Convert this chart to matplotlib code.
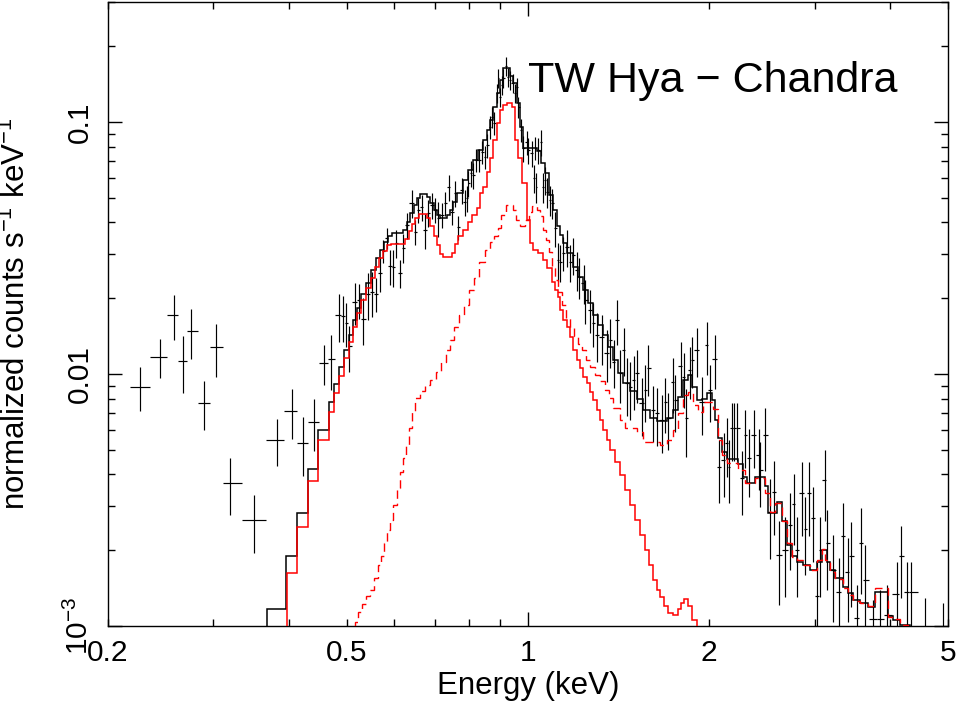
import numpy as np
import matplotlib
matplotlib.use("Agg")
import matplotlib.pyplot as plt

# ============================================================
# 1. Data
# ============================================================

# observed spectrum: bin centre (keV), rate (counts/s/keV), 1-sigma error
e_data = [
    0.2266, 0.2444, 0.2577, 0.2667, 0.2757, 0.2891, 0.3027, 0.3197, 0.3510, 0.3824,
    0.4049, 0.4223, 0.4405, 0.4578, 0.4714,
    0.4850, 0.4930, 0.4987, 0.5050, 0.5163, 0.5232, 0.5329, 0.5432, 0.5510, 0.5596,
    0.5682, 0.5754, 0.5830, 0.5902, 0.5976, 0.6039, 0.6133, 0.6205, 0.6293, 0.6415,
    0.6497, 0.6571, 0.6665, 0.6750, 0.6837, 0.6926, 0.7015, 0.7103, 0.7197, 0.7289,
    0.7382, 0.7487, 0.7574, 0.7662, 0.7769, 0.7852, 0.7918, 0.7967, 0.8049, 0.8122,
    0.8207, 0.8310, 0.8387, 0.8495, 0.8550, 0.8659, 0.8716, 0.8793, 0.8884, 0.8938,
    0.8997, 0.9066, 0.9112, 0.9207, 0.9266, 0.9347, 0.9445, 0.9528, 0.9591, 0.9650,
    0.9739, 0.9836, 0.9966, 1.0027, 1.0158, 1.0248, 1.0287, 1.0327, 1.0418, 1.0515,
    1.0619, 1.0690, 1.0760, 1.0897, 1.0967, 1.1107, 1.1249, 1.1322, 1.1466, 1.1618,
    1.1763, 1.1912, 1.2069, 1.2145, 1.2380, 1.2460, 1.2701, 1.2862, 1.3032, 1.3284,
    1.3541, 1.3713, 1.3888, 1.4073, 1.4248, 1.4430, 1.4620, 1.4808, 1.4998, 1.5191,
    1.5486, 1.5677, 1.5876, 1.6183, 1.6397, 1.6714, 1.6928, 1.7143, 1.7435, 1.7592,
    1.7982, 1.8160, 1.8349, 1.8580, 1.8752, 1.9115, 1.9490, 1.9867, 2.0069, 2.0506,
    2.0767, 2.1166, 2.1445, 2.1576, 2.1863, 2.2047, 2.2327, 2.2707, 2.3008, 2.3300,
    2.3750, 2.4208, 2.4363, 2.4834, 2.5311, 2.5634, 2.6131, 2.6810, 2.7330, 2.7679,
    2.8035, 2.8582, 2.8948, 2.9391, 2.9813, 3.0273, 3.0659, 3.1172, 3.1460, 3.2193,
    3.2890, 3.3448, 3.4045, 3.4495, 3.5290, 3.5871, 3.6424, 3.7490, 3.8593, 3.9592,
    4.1130, 4.1770, 4.2742, 4.3447, 4.5840, 4.9057,
]
rate = [
    0.00891, 0.01172, 0.01710, 0.01129, 0.01481, 0.00769, 0.01276, 0.00370, 0.00263, 0.00546,
    0.00713, 0.00534, 0.00643, 0.01106, 0.01144,
    0.0171, 0.01694, 0.01596, 0.01288, 0.01934, 0.0197, 0.01655, 0.02079, 0.02111, 0.02079,
    0.02516, 0.03082, 0.03463, 0.02685, 0.02661, 0.0331, 0.02516, 0.03168, 0.0390, 0.04767,
    0.03662, 0.0448, 0.04595, 0.0373, 0.04359, 0.0468, 0.0448, 0.04156, 0.0428, 0.04767,
    0.05518, 0.04399, 0.05225, 0.03829, 0.0537, 0.04811, 0.04991, 0.05721, 0.06274, 0.0616,
    0.0707, 0.0707, 0.0760, 0.07266, 0.0810, 0.09553, 0.1047, 0.09905, 0.1304, 0.1495,
    0.1257, 0.1402, 0.1495, 0.1669, 0.1508, 0.1468, 0.1428, 0.1304, 0.1377, 0.1147,
    0.0930, 0.0788, 0.0833, 0.0774, 0.0753, 0.0599, 0.0788, 0.0552, 0.0774, 0.0833,
    0.0552, 0.0588, 0.0527, 0.0490, 0.0477, 0.0380, 0.0283, 0.0278, 0.0303, 0.0319,
    0.0278, 0.0297, 0.0259, 0.0243, 0.0230, 0.0197, 0.0180, 0.0160, 0.0143, 0.0140,
    0.0121, 0.0136, 0.0112, 0.0164, 0.0101, 0.0125, 0.00921, 0.00888, 0.00947, 0.0101,
    0.00767, 0.00864, 0.0106, 0.00720, 0.00700, 0.00657, 0.00774, 0.00669, 0.0093, 0.00788,
    0.0108, 0.00973, 0.00669, 0.0104, 0.0114, 0.0125, 0.00774, 0.0130, 0.00864, 0.0115,
    0.00427, 0.00456, 0.00532, 0.00427, 0.00611, 0.00611, 0.00611, 0.00387, 0.00573, 0.00464,
    0.00573, 0.00477, 0.00416, 0.00573, 0.00284, 0.0034, 0.00191, 0.00200, 0.00252, 0.00305,
    0.00200, 0.00337, 0.00242, 0.00337, 0.00268, 0.00131, 0.00200, 0.00380, 0.00214, 0.00167,
    0.00136, 0.00228, 0.00164, 0.00189, 0.00108, 0.00214, 0.00152, 0.00107, 0.00107, 0.00111,
    0.00134, 0.00189, 0.00136, 0.00136, 0.00092, 0.00096,
]
rate_err = [
    0.0018, 0.0021, 0.0035, 0.0029, 0.0033, 0.0017, 0.0030, 0.00094, 0.00068, 0.00115,
    0.0016, 0.0014, 0.0015, 0.0020, 0.0028,
    0.0037, 0.0035, 0.0032, 0.0027, 0.0037, 0.0031, 0.0035, 0.0044, 0.0043, 0.0032,
    0.0040, 0.0032, 0.0034, 0.0043, 0.0045, 0.0042, 0.0031, 0.0042, 0.0046, 0.0060,
    0.0042, 0.0051, 0.0054, 0.0059, 0.0054, 0.0055, 0.0051, 0.0066, 0.0049, 0.0051,
    0.0064, 0.0050, 0.0060, 0.0041, 0.0062, 0.0056, 0.0058, 0.0067, 0.0073, 0.0072,
    0.0074, 0.0074, 0.0080, 0.0076, 0.0086, 0.010, 0.010, 0.0105, 0.011, 0.013,
    0.011, 0.012, 0.013, 0.014, 0.013, 0.0125, 0.012, 0.011, 0.012, 0.011,
    0.0098, 0.0092, 0.0089, 0.009, 0.0087, 0.0076, 0.0083, 0.0075, 0.009, 0.0097,
    0.0075, 0.0075, 0.0072, 0.0067, 0.0065, 0.006, 0.0048, 0.0047, 0.0047, 0.0054,
    0.0047, 0.0049, 0.0046, 0.0045, 0.0041, 0.0039, 0.0035, 0.0032, 0.0031, 0.0031,
    0.0028, 0.003, 0.0024, 0.0033, 0.0024, 0.0027, 0.0024, 0.0023, 0.0023, 0.0024,
    0.002, 0.0022, 0.0024, 0.0018, 0.0018, 0.0017, 0.0019, 0.0017, 0.0023, 0.002,
    0.0026, 0.0024, 0.002, 0.0024, 0.0026, 0.0028, 0.002, 0.0031, 0.0022, 0.0028,
    0.0012, 0.0013, 0.0014, 0.0012, 0.0016, 0.0016, 0.0016, 0.0011, 0.0015, 0.0014,
    0.0015, 0.0013, 0.0012, 0.0016, 0.001, 0.0011, 0.0007, 0.0007, 0.00085, 0.00096,
    0.0007, 0.0011, 0.00083, 0.0011, 0.00088, 0.0005, 0.0007, 0.0012, 0.00075, 0.00063,
    0.0005, 0.0008, 0.0006, 0.0007, 0.00037, 0.0008, 0.00058, 0.0002, 0.00032, 0.00034,
    0.00046, 0.0006, 0.00044, 0.00044, 0.00037, 0.00027,
]

# total model (black histogram): bin edges (keV) and values
black_edges = [
    0.369, 0.396, 0.413, 0.431, 0.448, 0.467, 0.476, 0.486, 0.495, 0.505,
    0.512, 0.520, 0.528, 0.539, 0.549, 0.560, 0.568, 0.577, 0.586, 0.595,
    0.621, 0.630, 0.637, 0.647, 0.655, 0.662, 0.680, 0.688, 0.699, 0.707,
    0.715, 0.735, 0.743, 0.752, 0.763, 0.781, 0.796, 0.811, 0.827, 0.843,
    0.856, 0.866, 0.876, 0.889, 0.900, 0.910, 0.935, 0.946, 0.960, 0.971,
    0.983, 1.037, 1.053, 1.069, 1.085, 1.102, 1.119, 1.132, 1.145, 1.163,
    1.190, 1.213, 1.237, 1.261, 1.285, 1.310, 1.335, 1.361, 1.387, 1.414,
    1.442, 1.481, 1.521, 1.556, 1.598, 1.642, 1.706, 1.746, 1.780, 1.814,
    1.849, 1.878, 1.914, 1.951, 1.989, 2.027, 2.051, 2.074, 2.107, 2.147,
    2.240, 2.283, 2.319, 2.391, 2.484, 2.512, 2.600, 2.651, 2.702, 2.754,
    2.807, 2.873, 2.951, 3.031, 3.089, 3.150, 3.186, 3.248, 3.349, 3.413,
    3.479, 3.574, 3.686, 3.786, 3.979, 4.056, 4.166, 4.329,
]
black_model = [
    0.00117, 0.00190, 0.00281, 0.00420, 0.00600, 0.00774, 0.00913, 0.01066, 0.01245, 0.01428,
    0.01638, 0.01828, 0.02077, 0.02297, 0.02586, 0.02886, 0.03105, 0.03341, 0.03529, 0.03627,
    0.03728, 0.04010, 0.04353, 0.04684, 0.04994, 0.05180, 0.05040, 0.04772, 0.04475, 0.04276,
    0.04160, 0.04276, 0.04475, 0.04815, 0.05228, 0.05885, 0.06448, 0.07067, 0.07743, 0.08483,
    0.09296, 0.1018, 0.1147, 0.1304, 0.1468, 0.1638, 0.1522, 0.1428, 0.1190, 0.0955,
    0.0789, 0.0767, 0.0688, 0.0628, 0.0513, 0.0448, 0.0387, 0.0356, 0.0331, 0.0302,
    0.0266, 0.0243, 0.0215, 0.0191, 0.0171, 0.0156, 0.0143, 0.0128, 0.0114, 0.0101,
    0.0092, 0.0086, 0.0080, 0.0072, 0.0067, 0.0065, 0.0067, 0.0072, 0.0081, 0.0095,
    0.0099, 0.0089, 0.0079, 0.0080, 0.0084, 0.0079, 0.0066, 0.0056, 0.0049, 0.0046,
    0.0044, 0.0039, 0.0037, 0.0039, 0.0036, 0.0028, 0.0031, 0.0026, 0.0021, 0.0019,
    0.0018, 0.00175, 0.00167, 0.0018, 0.0020, 0.0018, 0.00167, 0.00155, 0.00143, 0.00135,
    0.00127, 0.00123, 0.00119, 0.00136, 0.00110, 0.00106, 0.00101,
]

# cool component (red solid)
cool_edges = [
    0.3972, 0.4133, 0.4311, 0.4479, 0.4672, 0.4763, 0.4855, 0.4949, 0.5045, 0.5123,
    0.5202, 0.5283, 0.5385, 0.5489, 0.5574, 0.5660, 0.5747, 0.5836, 0.5926, 0.6252,
    0.6349, 0.6422, 0.6497, 0.6597, 0.6802, 0.6881, 0.6988, 0.7069, 0.7151, 0.7232,
    0.7487, 0.7574, 0.7662, 0.7809, 0.7961, 0.8083, 0.8238, 0.8334, 0.8430, 0.8559,
    0.8659, 0.8759, 0.8894, 0.8997, 0.9100, 0.9240, 0.9419, 0.9528, 0.9638, 0.9788,
    0.9977, 1.0092, 1.0210, 1.0406, 1.0607, 1.0772, 1.0980, 1.1107, 1.1236, 1.1322,
    1.1453, 1.1632, 1.1763, 1.1901, 1.2083, 1.2223, 1.2366, 1.2556, 1.2701, 1.2849,
    1.3048, 1.3199, 1.3351, 1.3559, 1.3716, 1.3982, 1.4252, 1.4528, 1.4808, 1.5093,
    1.5383, 1.5677, 1.5922, 1.6167, 1.6418, 1.6607, 1.6866, 1.7125, 1.7455, 1.7795,
    1.7998, 1.8207, 1.8491, 1.8777, 1.9136,
]
cool_model = [
    0.00162, 0.00247, 0.00376, 0.00547, 0.00707, 0.00841, 0.00982, 0.01158, 0.01340, 0.01536,
    0.01746, 0.01966, 0.02194, 0.02404, 0.02658, 0.02886, 0.03076, 0.03250, 0.03280, 0.03434,
    0.03694, 0.03937, 0.04160, 0.04314, 0.04160, 0.03867, 0.03529, 0.03250, 0.02993, 0.02912,
    0.03021, 0.03280, 0.03529, 0.03728, 0.04010, 0.04276, 0.04558, 0.05228, 0.05522, 0.06333,
    0.07197, 0.08483, 0.09909, 0.1116, 0.1168, 0.1190, 0.1147, 0.0848, 0.0720, 0.0573,
    0.0408, 0.0331, 0.0311, 0.0302, 0.0284, 0.0263, 0.0232, 0.0215, 0.0202, 0.01795,
    0.01638, 0.01536, 0.01402, 0.01245, 0.01136, 0.01056, 0.00973, 0.00921, 0.00848, 0.00788,
    0.00720, 0.00657, 0.00600, 0.00547, 0.00499, 0.00447, 0.00397, 0.00346, 0.00302, 0.00263,
    0.00230, 0.00200, 0.00175, 0.00152, 0.00139, 0.00130, 0.00120, 0.00113, 0.00111, 0.00117,
    0.00123, 0.00128, 0.00120, 0.00106,
]

# hot component (red dashed)
hot_edges = [
    0.5163, 0.5223, 0.5303, 0.5385, 0.5468, 0.5552, 0.5638, 0.5704, 0.5770, 0.5836,
    0.5902, 0.5970, 0.6063, 0.6133, 0.6205, 0.6277, 0.6349, 0.6422, 0.6497, 0.6622,
    0.6750, 0.6881, 0.7041, 0.7177, 0.7316, 0.7430, 0.7544, 0.7690, 0.7839, 0.7991,
    0.8145, 0.8302, 0.8495, 0.8659, 0.8793, 0.8928, 0.9031, 0.9207, 0.9456, 0.9565,
    0.9714, 0.9900, 1.0054, 1.0170, 1.0366, 1.0486, 1.0607, 1.0730, 1.0854, 1.0980,
    1.1107, 1.1236, 1.1409, 1.1586, 1.1763, 1.1945, 1.2131, 1.2319, 1.2509, 1.2701,
    1.2947, 1.3199, 1.3455, 1.3663, 1.3873, 1.4252, 1.4528, 1.5205, 1.5560, 1.6607,
    1.7058, 1.7455, 1.7795, 1.8139, 1.8491, 1.8845, 1.9212, 1.9584, 2.0350, 2.0744,
    2.1066, 2.1473, 2.2398, 2.3008, 2.3905, 2.4843, 2.5311, 2.5801, 2.6505, 2.7016,
    2.7542, 2.8072, 2.8726, 2.9508, 3.0307, 3.0893, 3.1263, 3.1860, 3.2477, 3.3487,
    3.4134, 3.4793, 3.5743, 3.6855, 3.7861, 3.9793, 4.0560, 4.1658, 4.2954,
]
hot_model = [
    0.00104, 0.00114, 0.00122, 0.00132, 0.00139, 0.00155, 0.00175, 0.00190, 0.00214, 0.00240,
    0.00263, 0.00302, 0.00353, 0.00408, 0.00464, 0.00523, 0.00611, 0.00707, 0.00803, 0.00856,
    0.00904, 0.00947, 0.01018, 0.01116, 0.01245, 0.01364, 0.01536, 0.01714, 0.01878, 0.02154,
    0.02404, 0.02782, 0.03105, 0.03341, 0.03529, 0.03795, 0.04276, 0.04684, 0.04475, 0.04084,
    0.03867, 0.04084, 0.04394, 0.04642, 0.04475, 0.04236, 0.03728, 0.03402, 0.03049, 0.02633,
    0.02360, 0.02115, 0.01878, 0.01668, 0.01522, 0.01415, 0.01315, 0.01245, 0.01136, 0.01066,
    0.00991, 0.00938, 0.00864, 0.00803, 0.00733, 0.00657, 0.00611, 0.00589, 0.00537, 0.00523,
    0.00547, 0.00600, 0.00700, 0.00825, 0.00848, 0.00753, 0.00707, 0.00774, 0.00725, 0.00547,
    0.00477, 0.00443, 0.00416, 0.00369, 0.00387, 0.00337, 0.00283, 0.00308, 0.00261, 0.00214,
    0.00188, 0.00183, 0.00175, 0.00167, 0.00183, 0.00202, 0.00183, 0.00164, 0.00154, 0.00142,
    0.00133, 0.00126, 0.00123, 0.00120, 0.00142, 0.00109, 0.00107, 0.00101,
]

x_minor = [0.2, 0.3, 0.4, 0.5, 0.6, 0.7, 0.8, 0.9, 2, 3, 4, 5]
x_minor_labels = ["0.2", "", "", "0.5", "", "", "", "", "2", "", "", "5"]
y_major = [1e-3, 1e-2, 1e-1]
y_major_labels = [r"$10^{-3}$", "0.01", "0.1"]

# ============================================================
# 2. Styling
# ============================================================
plt.rcParams["font.family"] = ["Liberation Sans", "DejaVu Sans"]
plt.rcParams["mathtext.fontset"] = "custom"
plt.rcParams["mathtext.rm"] = "Liberation Sans"
plt.rcParams["mathtext.it"] = "Liberation Sans:italic"
plt.rcParams["mathtext.bf"] = "Liberation Sans:bold"

# ============================================================
# 3. Bin widths of the data (half way to the neighbouring bins, in log E)
# ============================================================
e = np.array(e_data)
loge = np.log10(e)
mids = 0.5 * (loge[1:] + loge[:-1])
lo = np.concatenate([[2 * loge[0] - mids[0]], mids])
hi = np.concatenate([mids, [2 * loge[-1] - mids[-1]]])
xerr = [e - 10 ** lo, 10 ** hi - e]

# ============================================================
# 4. Plot
# ============================================================
fig = plt.figure(figsize=(9.74, 7.06), dpi=100)
ax = fig.add_axes([0.1104, 0.1133, 0.8629, 0.8839])

ax.errorbar(e, rate, xerr=xerr, yerr=rate_err, fmt="none",
            ecolor="black", elinewidth=0.85, capsize=0, zorder=2)
ax.stairs(black_model, black_edges, baseline=1e-4, color="black", lw=1.1, zorder=3)
ax.stairs(hot_model, hot_edges, baseline=1e-4, color="red", lw=1.0,
          linestyle=(0, (6, 3.5)), zorder=4)
ax.stairs(cool_model, cool_edges, baseline=1e-4, color="red", lw=1.1, zorder=5)

ax.set_xscale("log")
ax.set_yscale("log")
ax.set_xlim(0.2, 5)
ax.set_ylim(1e-3, 0.3)

ax.set_xticks([1])
ax.set_xticklabels(["1"])
ax.set_xticks(x_minor, minor=True)
ax.set_xticklabels(x_minor_labels, minor=True)
ax.set_yticks(y_major)
ax.set_yticklabels(y_major_labels, rotation=90, va="center")

ax.tick_params(which="both", direction="in", top=True, right=True,
               width=1.0, labelsize=21.5)
ax.tick_params(which="major", length=10)
ax.tick_params(which="minor", length=5)
ax.tick_params(axis="x", which="both", pad=9)
ax.tick_params(axis="y", which="both", pad=10)
for s in ax.spines.values():
    s.set_linewidth(1.0)

ax.set_xlabel("Energy (keV)", fontsize=22.5)
ax.set_ylabel("normalized counts s$^{-1}$ keV$^{-1}$", fontsize=22.5)
ax.xaxis.set_label_coords(0.5, -0.072)
ax.yaxis.set_label_coords(-0.090, 0.5)

ax.text(0.5003, 0.856, "TW Hya \u2212 Chandra", transform=ax.transAxes,
        fontsize=31, ha="left", va="baseline")

fig.savefig("out.png", dpi=100)
